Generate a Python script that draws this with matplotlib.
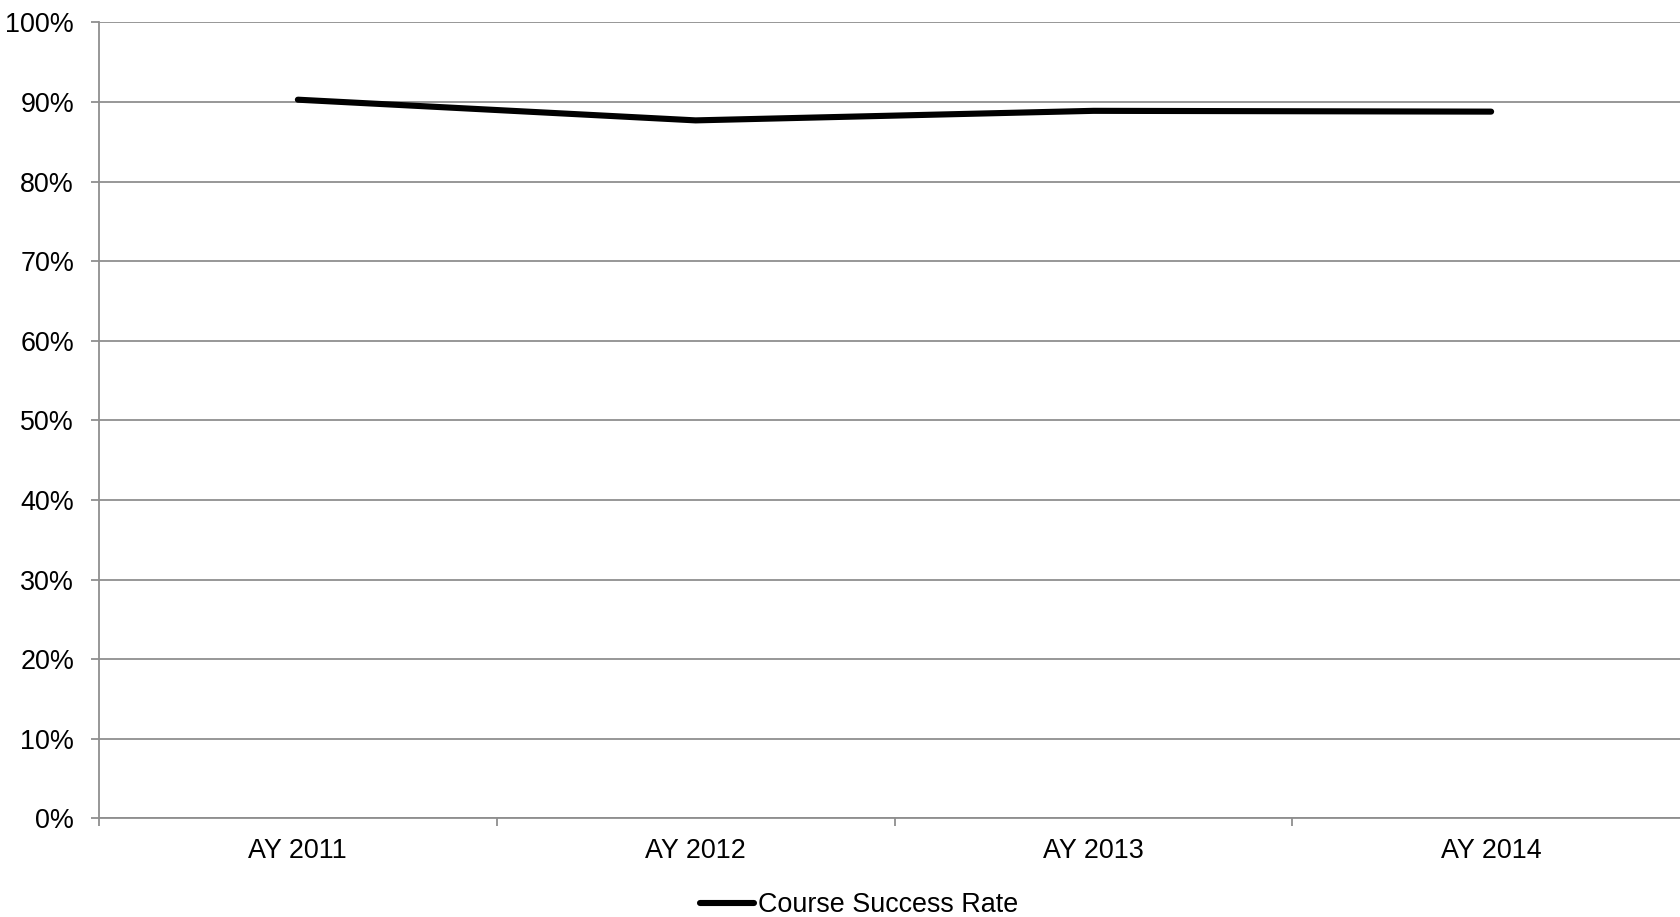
import matplotlib
matplotlib.use("Agg")
import matplotlib.pyplot as plt
from matplotlib.ticker import FixedLocator, FuncFormatter

plt.rcParams['font.family'] = ['Liberation Sans', 'DejaVu Sans']

# Course success rate by academic year (percent)
years = ["AY 2011", "AY 2012", "AY 2013", "AY 2014"]
success_rate = [90.3, 87.7, 88.9, 88.8]
y_ticks = [0, 10, 20, 30, 40, 50, 60, 70, 80, 90, 100]
series_name = "Course Success Rate"

W, H, DPI = 1680, 917, 100
fig = plt.figure(figsize=(W / DPI, H / DPI), dpi=DPI)
fig.patch.set_facecolor("white")

# Plot area: left edge at 99 px, category spacing such that the last band runs off the right edge
left_px, right_px = 99, 1690
bottom_px, top_px = 818.3, 22.5
ax = fig.add_axes([left_px / W, 1 - bottom_px / H,
                   (right_px - left_px) / W, (bottom_px - top_px) / H])

grid_color = "#8f8f8f"
fontsize = 19.4

x = list(range(len(years)))
ax.plot(x, success_rate, color="black", lw=4.4, solid_capstyle="round",
        solid_joinstyle="round", label=series_name, zorder=3, clip_on=False)

ax.set_xlim(-0.5, len(years) - 0.5)
ax.set_ylim(0, 100)

# horizontal gridlines
ax.yaxis.set_major_locator(FixedLocator(y_ticks))
ax.yaxis.set_major_formatter(FuncFormatter(lambda v, p: f"{int(v)}%"))
ax.grid(axis="y", color=grid_color, lw=1.3)
ax.set_axisbelow(True)

# category boundaries carry tick marks, centers carry labels
ax.xaxis.set_major_locator(FixedLocator([i - 0.5 for i in range(len(years) + 1)]))
ax.xaxis.set_major_formatter(FuncFormatter(lambda v, p: ""))
ax.set_xticks(x, minor=True)
ax.set_xticklabels(years, minor=True)

ax.tick_params(axis="x", which="major", direction="out", length=6, width=1.3,
               color=grid_color)
ax.tick_params(axis="x", which="minor", length=0, pad=14.5, labelsize=fontsize,
               labelcolor="black")
ax.tick_params(axis="y", which="major", direction="out", length=6, width=1.3,
               color=grid_color, pad=12, labelsize=fontsize, labelcolor="black")

for side in ("top", "right"):
    ax.spines[side].set_visible(False)
for side in ("left", "bottom"):
    ax.spines[side].set_color(grid_color)
    ax.spines[side].set_linewidth(1.3)

fig.legend(loc="center", bbox_to_anchor=(859 / W, 1 - 905 / H), frameon=False,
           fontsize=fontsize, handlelength=2.0, handletextpad=0.15,
           borderpad=0, borderaxespad=0)

fig.savefig("out.png", dpi=DPI, facecolor="white")
